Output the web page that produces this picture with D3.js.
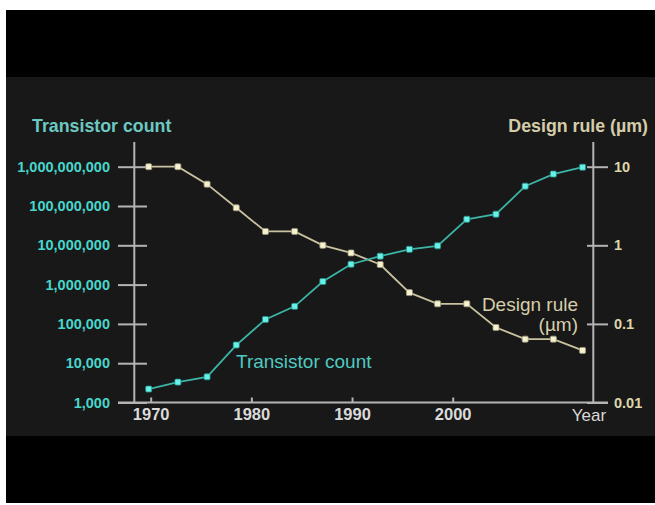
<!DOCTYPE html>
<html>
<head>
<meta charset="utf-8">
<script src="https://cdn.jsdelivr.net/npm/d3@7"></script>
<style>
  body { margin: 0; background: #ffffff; }
  #chart { width: 655px; height: 505px; }
  text { font-family: "Liberation Sans", Arial, Helvetica, sans-serif; }
</style>
</head>
<body>
<div id="chart"></div>
<script>
// Data (roughly one point every ~2.9 years)
var years = [1969.8, 1972.7, 1975.6, 1978.5, 1981.4, 1984.3, 1987.1, 1989.9,
             1992.8, 1995.7, 1998.5, 2001.4, 2004.3, 2007.2, 2010.0, 2012.9];
var transistorCount = [2200, 3300, 4500, 29000, 130000, 280000, 1200000, 3300000,
                       5300000, 7900000, 9700000, 46000000, 62000000, 320000000, 650000000, 970000000];
var designRule = [10, 10, 6, 3, 1.5, 1.5, 1, 0.8,
                  0.57, 0.25, 0.18, 0.18, 0.09, 0.064, 0.064, 0.046];

var yearTicks = [1970, 1980, 1990, 2000];
var countTicks = [1e3, 1e4, 1e5, 1e6, 1e7, 1e8, 1e9];
var ruleTicks = [0.01, 0.1, 1, 10];
var ruleLabels = ["0.01", "0.1", "1", "10"];

function createChart() {
    var width = 655, height = 505;
    var cyan = "#48d6cc", cream = "#ddd6ac";

    var svg = d3.select("#chart")
        .html("")
        .append("svg")
        .attr("width", width)
        .attr("height", height);

    // black video frame + dark plot band
    svg.append("rect").attr("x", 6).attr("y", 10).attr("width", 649).attr("height", 493).attr("fill", "#000");
    svg.append("rect").attr("x", 6).attr("y", 77).attr("width", 649).attr("height", 359).attr("fill", "#181818");

    var x = d3.scaleLinear().domain([1970, 2000]).range([150.7, 452.7]);
    var yLeft = d3.scaleLog().domain([1e3, 1e9]).range([402.5, 166.7]);
    var yRight = d3.scaleLog().domain([0.01, 10]).range([402.5, 166.7]);

    var axisColor = "#b4b4b4";

    // left axis (ticks cross the vertical line)
    var leftAxis = svg.append("g")
        .attr("transform", "translate(147,0)")
        .call(d3.axisLeft(yLeft).tickValues(countTicks).tickSize(29).tickPadding(8).tickFormat(d3.format(",")));
    leftAxis.select(".domain").remove();
    leftAxis.selectAll(".tick line").attr("stroke", axisColor).attr("stroke-width", 2);
    leftAxis.selectAll(".tick text")
        .attr("fill", cyan)
        .style("font-size", "14.5px")
        .style("font-weight", "bold");

    // right axis
    var rightAxis = svg.append("g")
        .attr("transform", "translate(587,0)")
        .call(d3.axisRight(yRight).tickValues(ruleTicks).tickSize(21).tickPadding(6)
            .tickFormat(function(d, i) { return ruleLabels[i]; }));
    rightAxis.select(".domain").remove();
    rightAxis.selectAll(".tick line").attr("stroke", axisColor).attr("stroke-width", 2);
    rightAxis.selectAll(".tick text")
        .attr("fill", cream)
        .style("font-size", "14.5px")
        .style("font-weight", "bold");

    // vertical axis lines
    svg.append("line").attr("x1", 134.3).attr("x2", 134.3).attr("y1", 142).attr("y2", 403)
        .attr("stroke", axisColor).attr("stroke-width", 2);
    svg.append("line").attr("x1", 593.3).attr("x2", 593.3).attr("y1", 142).attr("y2", 403)
        .attr("stroke", axisColor).attr("stroke-width", 2);

    // bottom axis, small ticks pointing up
    var bottomAxis = svg.append("g")
        .attr("transform", "translate(0,402.5)")
        .call(d3.axisBottom(x).tickValues(yearTicks).tickSize(-5).tickPadding(6).tickFormat(d3.format("d")));
    bottomAxis.select(".domain").remove();
    bottomAxis.selectAll(".tick line").attr("stroke", axisColor).attr("stroke-width", 2);
    bottomAxis.selectAll(".tick text")
        .attr("fill", "#dadada")
        .style("font-size", "16.5px")
        .style("font-weight", "bold");
    svg.append("line").attr("x1", 118).attr("x2", 608).attr("y1", 402.5).attr("y2", 402.5)
        .attr("stroke", axisColor).attr("stroke-width", 2);

    // series
    var ruleLine = d3.line()
        .x(function(d, i) { return x(years[i]); })
        .y(function(d) { return yRight(d); });
    var countLine = d3.line()
        .x(function(d, i) { return x(years[i]); })
        .y(function(d) { return yLeft(d); });

    svg.append("path").datum(designRule)
        .attr("d", ruleLine)
        .attr("fill", "none")
        .attr("stroke", "#c9c3a2")
        .attr("stroke-width", 1.8);
    svg.append("path").datum(transistorCount)
        .attr("d", countLine)
        .attr("fill", "none")
        .attr("stroke", "#3cb4a6")
        .attr("stroke-width", 1.8);

    svg.selectAll(".rule-dot")
        .data(designRule)
        .enter().append("rect")
        .attr("class", "rule-dot")
        .attr("x", function(d, i) { return x(years[i]) - 3; })
        .attr("y", function(d) { return yRight(d) - 3; })
        .attr("width", 6).attr("height", 6).attr("rx", 1.2)
        .attr("fill", "#f6f2cf")
        .attr("stroke", "#9c967a").attr("stroke-width", 0.8);

    svg.selectAll(".count-dot")
        .data(transistorCount)
        .enter().append("rect")
        .attr("class", "count-dot")
        .attr("x", function(d, i) { return x(years[i]) - 3; })
        .attr("y", function(d) { return yLeft(d) - 3; })
        .attr("width", 6).attr("height", 6).attr("rx", 1.2)
        .attr("fill", "#66f2e8")
        .attr("stroke", "#2a8f86").attr("stroke-width", 0.8);

    // headers
    svg.append("text").attr("x", 32).attr("y", 132)
        .attr("fill", "#6cc8c2")
        .style("font-size", "17.8px").style("font-weight", "bold")
        .text("Transistor count");
    svg.append("text").attr("x", 648).attr("y", 132)
        .attr("text-anchor", "end")
        .attr("fill", "#d4cda8")
        .style("font-size", "17.8px").style("font-weight", "bold")
        .text("Design rule (µm)");

    // inline series labels
    svg.append("text").attr("x", 236).attr("y", 368)
        .attr("fill", "#4fcac0")
        .style("font-size", "19px")
        .text("Transistor count");
    svg.append("text").attr("x", 578).attr("y", 311)
        .attr("text-anchor", "end")
        .attr("fill", "#d6cfaa")
        .style("font-size", "19px")
        .text("Design rule");
    svg.append("text").attr("x", 578).attr("y", 331)
        .attr("text-anchor", "end")
        .attr("fill", "#d6cfaa")
        .style("font-size", "19px")
        .text("(µm)");

    svg.append("text").attr("x", 589).attr("y", 421)
        .attr("text-anchor", "middle")
        .attr("fill", "#d8d8d8")
        .style("font-size", "17px")
        .text("Year");
}

createChart();
</script>
</body>
</html>
